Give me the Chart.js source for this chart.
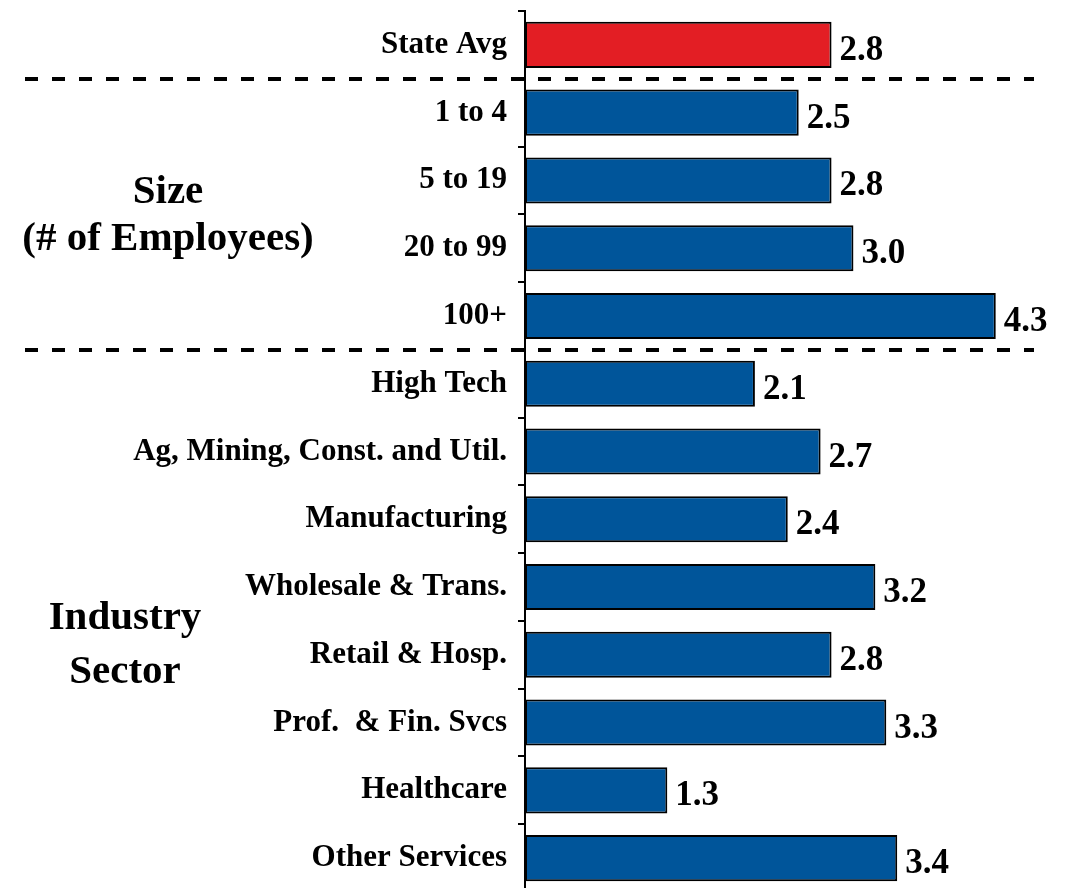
<!DOCTYPE html>
<html>
<head>
<meta charset="utf-8">
<script src="https://cdn.jsdelivr.net/npm/chart.js@4"></script>
<style>
html,body{margin:0;padding:0;background:#fff;overflow:hidden;}
#wrap{position:relative;width:1067px;height:900px;}
</style>
</head>
<body>
<div id="wrap"><canvas id="c" width="1067" height="900"></canvas></div>
<script>
const categories = ["State Avg","1 to 4","5 to 19","20 to 99","100+","High Tech","Ag, Mining, Const. and Util.","Manufacturing","Wholesale & Trans.","Retail & Hosp.","Prof.  & Fin. Svcs","Healthcare","Other Services"];
const values = [2.8,2.5,2.8,3.0,4.3,2.1,2.7,2.4,3.2,2.8,3.3,1.3,3.4];
const valueLabels = ["2.8","2.5","2.8","3.0","4.3","2.1","2.7","2.4","3.2","2.8","3.3","1.3","3.4"];
const barColors = ["#E31E24","#00559A","#00559A","#00559A","#00559A","#00559A","#00559A","#00559A","#00559A","#00559A","#00559A","#00559A","#00559A"];
const groupLabels = [
  {lines:["Size","(# of Employees)"], from:1, to:4},
  {lines:["Industry","Sector"], from:5, to:12}
];
const dividerAfter = [0,4];

const SERIF = '"Liberation Serif", "DejaVu Serif", serif';

const overlay = {
  id:'overlay',
  afterDatasetsDraw(chart){
    const ctx = chart.ctx;
    const ys = chart.scales.y;
    // value labels
    const meta = chart.getDatasetMeta(0);
    ctx.save();
    ctx.fillStyle = '#000';
    ctx.font = 'bold 35px ' + SERIF;
    ctx.textAlign = 'left';
    ctx.textBaseline = 'alphabetic';
    meta.data.forEach((bar,i)=>{
      ctx.fillText(valueLabels[i], bar.x + 8, bar.y + 15);
    });
    // dashed dividers
    ctx.strokeStyle = '#000';
    ctx.lineWidth = 4;
    ctx.setLineDash([13,14]);
    dividerAfter.forEach(i=>{
      const y = Math.round((ys.getPixelForValue(i) + ys.getPixelForValue(i+1))/2);
      ctx.beginPath();
      ctx.moveTo(25, y);
      ctx.lineTo(1034, y);
      ctx.stroke();
    });
    ctx.setLineDash([]);
    // group labels
    ctx.font = 'bold 41px ' + SERIF;
    ctx.textAlign = 'center';
    ctx.textBaseline = 'alphabetic';
    const cfg = [{cx:168, dy:12, lh:47},{cx:125, dy:35, lh:54}];
    groupLabels.forEach((g,gi)=>{
      const y0 = ys.getPixelForValue(g.from), y1 = ys.getPixelForValue(g.to);
      const c = cfg[gi];
      const cy = (y0+y1)/2 + c.dy;
      const n = g.lines.length;
      g.lines.forEach((t,k)=>{
        ctx.fillText(t, c.cx, cy + (k-(n-1)/2)*c.lh);
      });
    });
    ctx.restore();
  }
};

new Chart(document.getElementById('c'), {
  type:'bar',
  data:{
    labels: categories,
    datasets:[{
      data: values,
      backgroundColor: barColors,
      borderColor:'#000',
      borderWidth:2,
      borderSkipped:false,
      categoryPercentage:1,
      barPercentage:0.68
    }]
  },
  options:{
    indexAxis:'y',
    responsive:false,
    animation:false,
    layout:{padding:{top:11,bottom:8,left:0,right:11}},
    plugins:{legend:{display:false},tooltip:{enabled:false}},
    scales:{
      x:{display:false,min:0,max:4.85},
      y:{
        afterFit(s){ s.width = 525; s.paddingTop = 0; s.paddingBottom = 0; },
        grid:{display:true,drawOnChartArea:false,drawTicks:true,tickLength:7,offset:true,color:'#000',lineWidth:2},
        border:{display:true,color:'#000',width:2},
        ticks:{color:'#000',padding:11,font:{family:SERIF,weight:'bold',size:31,lineHeight:0.05}}
      }
    }
  },
  plugins:[overlay]
});
</script>
</body>
</html>
